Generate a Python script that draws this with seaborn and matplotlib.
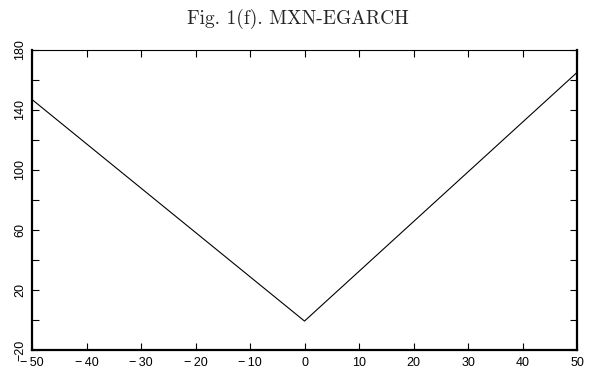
import matplotlib
matplotlib.use("Agg")
import matplotlib.pyplot as plt
import seaborn as sns
from matplotlib.ticker import MultipleLocator

# news impact curve
shock = [-50, 0, 50]
variance = [147, -0.7, 165]

x_ticks = [-50, -40, -30, -20, -10, 0, 10, 20, 30, 40, 50]
y_major = [-20, 20, 60, 100, 140, 180]

sns.set_style("ticks")
plt.rcParams['font.family'] = ['Liberation Sans', 'DejaVu Sans']

fig = plt.figure(figsize=(5.96, 3.70), dpi=100)
ax = fig.add_axes([32 / 596, 20 / 370, 545 / 596, 300 / 370])

sns.lineplot(x=shock, y=variance, ax=ax, color='black', linewidth=0.8)

ax.set_xlim(-50, 50)
ax.set_ylim(-20, 180)
ax.set_xticks(x_ticks)
ax.set_xticklabels([f"\u2212\u2009{abs(v)}" if v < 0 else str(v) for v in x_ticks])
ax.set_yticks(y_major)
ax.set_yticklabels([f"\u2212{abs(v)}" if v < 0 else str(v) for v in y_major])
ax.yaxis.set_minor_locator(MultipleLocator(20))

ax.tick_params(axis='both', which='both', direction='in', length=5, width=0.8,
               top=True, right=True, labelsize=9, colors='black')
ax.tick_params(axis='x', pad=5)
ax.tick_params(axis='y', pad=4)
for lbl in ax.get_yticklabels():
    lbl.set_rotation(90)
    lbl.set_va('center')

for side in ['left', 'bottom', 'right']:
    ax.spines[side].set_linewidth(1.6)
ax.spines['top'].set_linewidth(0.8)
for s in ax.spines.values():
    s.set_color('black')

ax.set_xlabel('')
ax.set_ylabel('')

fig.text(0.5, 1 - 19 / 370, 'Fig. 1(f). MXN-EGARCH', ha='center', va='center',
         fontsize=14, family=['cmr10', 'DejaVu Serif'])

fig.savefig('out.png', dpi=100)
